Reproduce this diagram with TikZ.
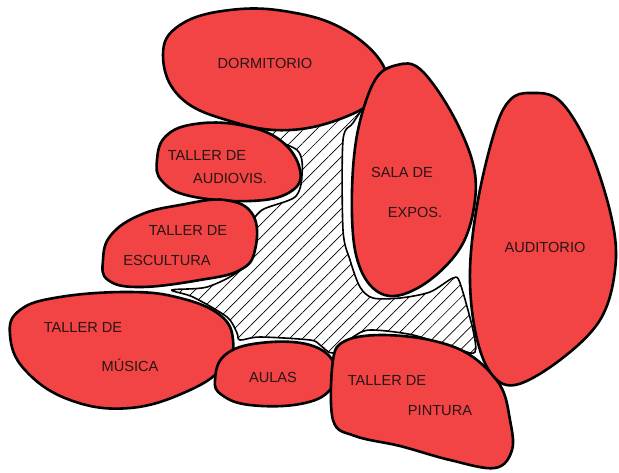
\documentclass[tikz,border=0pt]{standalone}
\usepackage{fontspec}
\setmainfont{Liberation Sans}
\usetikzlibrary{patterns.meta}
\definecolor{blobred}{RGB}{242,68,68}
\definecolor{inkdark}{RGB}{40,20,20}

\begin{document}
\begin{tikzpicture}[
    x=0.5pt, y=-0.5pt,
    blob/.style={draw=black, line width=1.3pt, fill=blobred},
    hatcharea/.style={draw=black, line width=0.8pt, fill=white, pattern={Lines[angle=45, distance=4.6pt, line width=0.35pt]}},
    lbl/.style={font=\fontsize{7.3}{9}\selectfont, text=inkdark, inner sep=0pt}
]

\useasboundingbox (0,0) rectangle (619,472);

% Central hatched area
\fill[white] plot[smooth cycle, tension=0.5] coordinates {
    (253,130) (320,120) (363,103) (353,123) (343,140) (343,230) (350,260)
    (360,287) (373,298) (400,298) (430,292) (453,278) (460,283) (473,330)
    (475,352) (460,350) (413,335) (370,330) (353,337) (333,353) (320,345)
    (310,340) (260,337) (240,340) (237,333) (227,317) (193,297) (172,290)
    (207,287) (240,270) (253,243) (250,227) (262,210) (295,197) (302,175) (297,150)};
\draw[hatcharea] plot[smooth cycle, tension=0.5] coordinates {
    (253,130) (320,120) (363,103) (353,123) (343,140) (343,230) (350,260)
    (360,287) (373,298) (400,298) (430,292) (453,278) (460,283) (473,330)
    (475,352) (460,350) (413,335) (370,330) (353,337) (333,353) (320,345)
    (310,340) (260,337) (240,340) (237,333) (227,317) (193,297) (172,290)
    (207,287) (240,270) (253,243) (250,227) (262,210) (295,197) (302,175) (297,150)};

% Rooms
\draw[blob] plot[smooth cycle, tension=0.7] coordinates {
    (163,55) (180,25) (230,10) (290,12) (345,30) (383,65) (380,92) (350,115) (290,130) (230,121) (180,97)};
\draw[blob] plot[smooth cycle, tension=0.7] coordinates {
    (157,160) (166,136) (195,124) (240,125) (280,140) (300,170) (290,192) (250,201) (190,196) (162,181)};
\draw[blob] plot[smooth cycle, tension=0.7] coordinates {
    (103,260) (111,235) (140,215) (180,205) (225,200) (253,215) (255,250) (240,270) (200,280) (140,287) (108,280)};
\draw[blob] plot[smooth cycle, tension=0.7] coordinates {
    (10,335) (20,310) (60,297) (130,292) (180,298) (220,315) (233,340) (225,365) (190,390) (130,408) (70,400) (25,370)};
\draw[blob] plot[smooth cycle, tension=0.7] coordinates {
    (215,380) (225,355) (260,343) (310,345) (335,365) (330,390) (300,404) (250,405) (222,395)};
\draw[blob] plot[smooth cycle, tension=0.6] coordinates {
    (333,360) (345,341) (380,335) (430,340) (470,355) (500,385) (510,420) (512,450) (495,468) (450,460) (400,446) (355,436) (333,420)};
\draw[blob] plot[smooth cycle, tension=0.6] coordinates {
    (397,65) (420,69) (450,110) (472,160) (475,200) (462,245) (430,280) (395,296) (370,285) (355,250) (352,190) (358,130) (375,80)};
\draw[blob] plot[smooth cycle, tension=0.6] coordinates {
    (530,93) (560,101) (590,150) (612,220) (615,270) (600,320) (560,360) (515,385) (490,372) (475,330) (470,270) (478,200) (495,130) (510,100)};

% Labels
\node[lbl] (dorm) at (265,63) {DORMITORIO};
\node[lbl] (audio1) at (207,155) {TALLER DE};
\node[lbl] (audio2) at (230,178) {AUDIOVIS.};
\node[lbl] (escul1) at (188,230) {TALLER DE};
\node[lbl] (escul2) at (167,260) {ESCULTURA};
\node[lbl] (musica1) at (83,327) {TALLER DE};
\node[lbl] (musica2) at (130,365) {MÚSICA};
\node[lbl] (aulas) at (273,377) {AULAS};
\node[lbl] (pint1) at (387,380) {TALLER DE};
\node[lbl] (pint2) at (440,411) {PINTURA};
\node[lbl] (sala1) at (402,172) {SALA DE};
\node[lbl] (sala2) at (415,212) {EXPOS.};
\node[lbl] (audit) at (545,247) {AUDITORIO};

\end{tikzpicture}
\end{document}
